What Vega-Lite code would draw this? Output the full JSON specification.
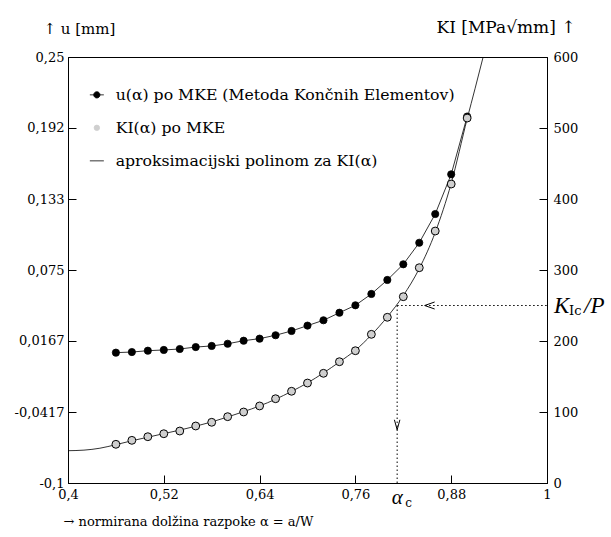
{
  "$schema": "https://vega.github.io/schema/vega-lite/v6.json",
  "width": 479,
  "height": 426,
  "autosize": {"type": "none"},
  "padding": {"left": 68, "top": 57, "right": 64, "bottom": 54},
  "background": "white",
  "datasets": {
    "u": [
      {"alpha": 0.46, "u": 0.0071}, {"alpha": 0.48, "u": 0.0076}, {"alpha": 0.50, "u": 0.0087},
      {"alpha": 0.52, "u": 0.0093}, {"alpha": 0.54, "u": 0.0101}, {"alpha": 0.56, "u": 0.0117},
      {"alpha": 0.58, "u": 0.0126}, {"alpha": 0.60, "u": 0.0144}, {"alpha": 0.62, "u": 0.0169},
      {"alpha": 0.64, "u": 0.0186}, {"alpha": 0.66, "u": 0.0214}, {"alpha": 0.68, "u": 0.0249},
      {"alpha": 0.70, "u": 0.0293}, {"alpha": 0.72, "u": 0.0337}, {"alpha": 0.74, "u": 0.0399},
      {"alpha": 0.76, "u": 0.0460}, {"alpha": 0.78, "u": 0.0553}, {"alpha": 0.80, "u": 0.0668},
      {"alpha": 0.82, "u": 0.0797}, {"alpha": 0.84, "u": 0.0974}, {"alpha": 0.86, "u": 0.1210},
      {"alpha": 0.88, "u": 0.1536}, {"alpha": 0.90, "u": 0.2011}
    ],
    "k": [
      {"alpha": 0.46, "K": 54.5}, {"alpha": 0.48, "K": 60.1}, {"alpha": 0.50, "K": 65.2},
      {"alpha": 0.52, "K": 69.4}, {"alpha": 0.54, "K": 73.2}, {"alpha": 0.56, "K": 80.3},
      {"alpha": 0.58, "K": 85.5}, {"alpha": 0.60, "K": 93.4}, {"alpha": 0.62, "K": 100},
      {"alpha": 0.64, "K": 108.5}, {"alpha": 0.66, "K": 118.7}, {"alpha": 0.68, "K": 129.2},
      {"alpha": 0.70, "K": 140.8}, {"alpha": 0.72, "K": 154.5}, {"alpha": 0.74, "K": 170.8},
      {"alpha": 0.76, "K": 186.3}, {"alpha": 0.78, "K": 209.4}, {"alpha": 0.80, "K": 233.4},
      {"alpha": 0.82, "K": 262.4}, {"alpha": 0.84, "K": 303.2}, {"alpha": 0.86, "K": 354.9},
      {"alpha": 0.88, "K": 421.1}, {"alpha": 0.90, "K": 514}
    ],
    "curve": [
      {"alpha": 0.40, "K": 45.5}, {"alpha": 0.42, "K": 46.3}, {"alpha": 0.44, "K": 49},
      {"alpha": 0.46, "K": 54}, {"alpha": 0.48, "K": 59.5}, {"alpha": 0.50, "K": 64.5},
      {"alpha": 0.52, "K": 69.5}, {"alpha": 0.54, "K": 74.5}, {"alpha": 0.56, "K": 80},
      {"alpha": 0.58, "K": 86}, {"alpha": 0.60, "K": 93}, {"alpha": 0.62, "K": 100.5},
      {"alpha": 0.64, "K": 108.5}, {"alpha": 0.66, "K": 118}, {"alpha": 0.68, "K": 129},
      {"alpha": 0.70, "K": 141}, {"alpha": 0.72, "K": 155}, {"alpha": 0.74, "K": 170.5},
      {"alpha": 0.76, "K": 187}, {"alpha": 0.78, "K": 208.5}, {"alpha": 0.80, "K": 234},
      {"alpha": 0.82, "K": 264}, {"alpha": 0.84, "K": 302}, {"alpha": 0.86, "K": 353},
      {"alpha": 0.88, "K": 422}, {"alpha": 0.90, "K": 513}, {"alpha": 0.91, "K": 556},
      {"alpha": 0.92, "K": 600}, {"alpha": 0.925, "K": 622}
    ],
    "ac": [{"alpha": 0.8123, "K": 250}],
    "arrows": [
      {"alpha": 0.853, "K": 250, "dir": "left"},
      {"alpha": 0.8123, "K": 82, "dir": "down"}
    ]
  },
  "layer": [
    {
      "layer": [
        {
          "data": {"name": "u"},
          "mark": {"type": "line", "stroke": "black", "strokeWidth": 0.8},
          "encoding": {
            "x": {
              "field": "alpha", "type": "quantitative",
              "scale": {"domain": [0.4, 1], "nice": false, "zero": false},
              "axis": {
                "values": [0.4, 0.52, 0.64, 0.76, 0.88, 1],
                "labelExpr": "replace(toString(datum.value), '.', ',')",
                "labelFlush": false,
                "labelOverlap": false,
                "labelPadding": 13,
                "title": "→ normirana dolžina razpoke α = a/W",
                "titleX": -5, "titleY": 38,
                "titleAlign": "left", "titleBaseline": "middle", "titleAnchor": "start",
                "titleFontSize": 13
              }
            },
            "y": {
              "field": "u", "type": "quantitative",
              "scale": {"domain": [-0.1, 0.25], "nice": false, "zero": false},
              "axis": {
                "orient": "left",
                "values": [-0.1, -0.0417, 0.0167, 0.075, 0.133, 0.192, 0.25],
                "labelExpr": "replace(toString(datum.value), '.', ',')",
                "labelOverlap": false,
                "labelPadding": 12,
                "title": "↑ u [mm]",
                "titleAngle": 0, "titleX": -25, "titleY": -29,
                "titleAlign": "left", "titleBaseline": "middle"
              }
            },
            "color": {
              "datum": "u(α) po MKE (Metoda Končnih Elementov)",
              "scale": {
                "domain": ["u(α) po MKE (Metoda Končnih Elementov)", "KI(α) po MKE", "aproksimacijski polinom za KI(α)"],
                "range": ["black", "#cfcfcf", "black"]
              },
              "legend": {
                "encode": {
                  "symbols": {
                    "update": {
                      "shape": {"signal": "datum.value === 'KI(α) po MKE' ? 'circle' : datum.value === 'aproksimacijski polinom za KI(α)' ? 'stroke' : 'M-1,0L1,0M0.45,0A0.45,0.45,0,1,1,-0.45,0A0.45,0.45,0,1,1,0.45,0Z'"},
                      "size": {"signal": "datum.value === 'KI(α) po MKE' ? 30 : 196"},
                      "fill": {"signal": "datum.value === 'KI(α) po MKE' ? '#cfcfcf' : datum.value === 'aproksimacijski polinom za KI(α)' ? 'transparent' : 'black'"},
                      "stroke": {"value": "black"},
                      "strokeWidth": {"value": 0.8},
                      "opacity": {"value": 1}
                    }
                  }
                }
              }
            }
          }
        },
        {
          "data": {"name": "u"},
          "mark": {"type": "point", "filled": true, "size": 52, "stroke": "black", "strokeWidth": 0.8, "opacity": 1},
          "encoding": {
            "x": {"field": "alpha", "type": "quantitative"},
            "y": {"field": "u", "type": "quantitative"},
            "color": {"datum": "u(α) po MKE (Metoda Končnih Elementov)"}
          }
        }
      ]
    },
    {
      "layer": [
        {
          "data": {"name": "curve"},
          "mark": {"type": "line", "interpolate": "monotone", "stroke": "black", "strokeWidth": 0.8, "clip": true},
          "encoding": {
            "x": {"field": "alpha", "type": "quantitative"},
            "y": {
              "field": "K", "type": "quantitative",
              "scale": {"domain": [0, 600], "nice": false},
              "axis": {
                "orient": "right",
                "values": [0, 100, 200, 300, 400, 500, 600],
                "labelOverlap": false,
                "labelPadding": 14,
                "title": "KI [MPa√mm] ↑",
                "titleAngle": 0, "titleX": 28, "titleY": -30,
                "titleAlign": "right", "titleBaseline": "middle",
                "titleFontSize": 17
              }
            },
            "color": {"datum": "aproksimacijski polinom za KI(α)"}
          }
        },
        {
          "data": {"name": "k"},
          "mark": {"type": "point", "filled": true, "size": 62, "stroke": "black", "strokeWidth": 1, "opacity": 1},
          "encoding": {
            "x": {"field": "alpha", "type": "quantitative"},
            "y": {"field": "K", "type": "quantitative"},
            "color": {"datum": "KI(α) po MKE"}
          }
        },
        {
          "data": {"name": "ac"},
          "mark": {"type": "rule", "stroke": "black", "strokeWidth": 1, "strokeDash": [1.5, 2.5]},
          "encoding": {
            "x": {"field": "alpha", "type": "quantitative"},
            "x2": {"datum": 1},
            "y": {"field": "K", "type": "quantitative"}
          }
        },
        {
          "data": {"name": "ac"},
          "mark": {"type": "rule", "stroke": "black", "strokeWidth": 1, "strokeDash": [1.5, 2.5]},
          "encoding": {
            "x": {"field": "alpha", "type": "quantitative"},
            "y": {"field": "K", "type": "quantitative"},
            "y2": {"datum": 0}
          }
        },
        {
          "data": {"name": "arrows"},
          "mark": {"type": "point", "filled": false, "color": "black", "strokeWidth": 1, "size": 100, "opacity": 1},
          "encoding": {
            "x": {"field": "alpha", "type": "quantitative"},
            "y": {"field": "K", "type": "quantitative"},
            "shape": {
              "field": "dir", "type": "nominal",
              "scale": {"domain": ["left", "down"], "range": ["M1,-0.7L-1,0L1,0.7", "M-0.55,-1L0,1L0.55,-1"]},
              "legend": null
            }
          }
        },
        {
          "data": {"name": "ac"},
          "mark": {"type": "text", "text": "α", "font": "Liberation Serif", "fontSize": 21, "fontStyle": "italic", "dy": 15, "baseline": "middle", "align": "center"},
          "encoding": {
            "x": {"field": "alpha", "type": "quantitative"},
            "y": {"datum": 0}
          }
        },
        {
          "data": {"name": "ac"},
          "mark": {"type": "text", "text": "c", "font": "DejaVu Serif", "fontSize": 12, "dx": 8, "dy": 20, "baseline": "middle", "align": "left"},
          "encoding": {
            "x": {"field": "alpha", "type": "quantitative"},
            "y": {"datum": 0}
          }
        },
        {
          "data": {"name": "ac"},
          "mark": {"type": "text", "text": "K", "font": "Liberation Serif", "fontSize": 23, "fontStyle": "italic", "dx": 7, "baseline": "middle", "align": "left"},
          "encoding": {
            "x": {"datum": 1},
            "y": {"field": "K", "type": "quantitative"}
          }
        },
        {
          "data": {"name": "ac"},
          "mark": {"type": "text", "text": "Ic", "font": "DejaVu Serif", "fontSize": 13, "dx": 22, "dy": 5, "baseline": "middle", "align": "left"},
          "encoding": {
            "x": {"datum": 1},
            "y": {"field": "K", "type": "quantitative"}
          }
        },
        {
          "data": {"name": "ac"},
          "mark": {"type": "text", "text": "/P", "font": "Liberation Serif", "fontSize": 23, "fontStyle": "italic", "dx": 37, "baseline": "middle", "align": "left"},
          "encoding": {
            "x": {"datum": 1},
            "y": {"field": "K", "type": "quantitative"}
          }
        }
      ]
    }
  ],
  "resolve": {"scale": {"y": "independent"}},
  "config": {
    "view": {"stroke": "black", "strokeWidth": 1},
    "font": "DejaVu Serif",
    "axis": {
      "grid": false,
      "domainColor": "black",
      "domainWidth": 1,
      "tickColor": "black",
      "tickSize": -8,
      "tickWidth": 1,
      "labelFont": "DejaVu Serif",
      "labelFontSize": 13,
      "labelColor": "black",
      "titleFont": "DejaVu Serif",
      "titleFontSize": 15,
      "titleFontWeight": "normal",
      "titleColor": "black"
    },
    "legend": {
      "orient": "none",
      "legendX": 21,
      "legendY": 30,
      "title": null,
      "padding": 0,
      "labelFont": "DejaVu Serif",
      "labelFontSize": 15.7,
      "labelColor": "black",
      "labelLimit": 0,
      "labelOffset": 11,
      "rowPadding": 16,
      "symbolSize": 196,
      "symbolStrokeWidth": 0.8
    }
  },
  "encoding": {}
}
